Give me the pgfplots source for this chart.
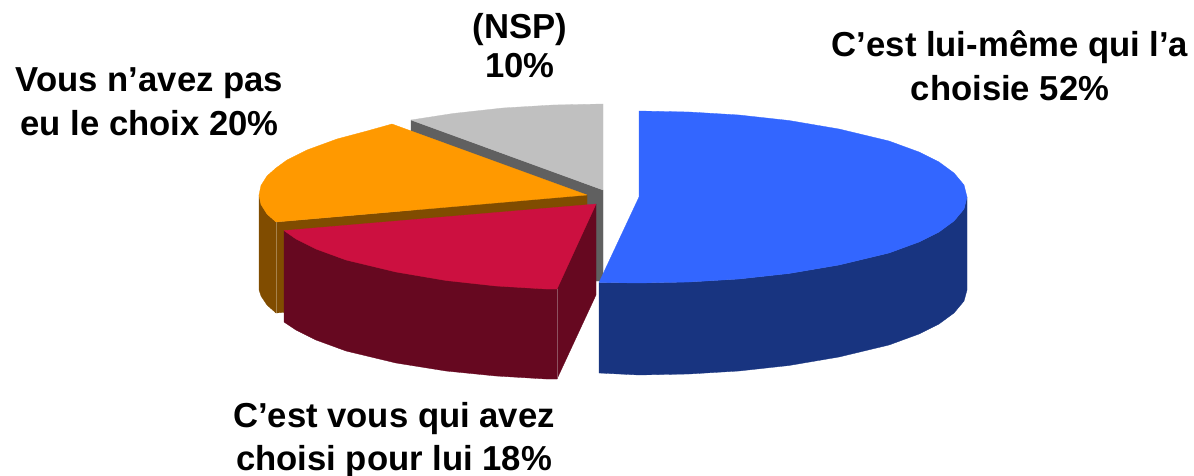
\documentclass[border=0pt]{standalone}
\usepackage{pgfplots}
\pgfplotsset{compat=1.18}
\usepackage{fontspec}
\setmainfont{Liberation Sans}
\definecolor{blueT}{HTML}{3366FF}
\definecolor{blueS}{HTML}{183480}
\definecolor{redT}{HTML}{CC1040}
\definecolor{redS}{HTML}{660820}
\definecolor{oraT}{HTML}{FF9900}
\definecolor{oraS}{HTML}{804C00}
\definecolor{graT}{HTML}{C0C0C0}
\definecolor{graS}{HTML}{606060}
\begin{document}
\begin{tikzpicture}
\path[use as bounding box] (0,0) rectangle (1194bp,476bp);
\begin{axis}[at={(0,0)},anchor=south west,scale only axis,width=1194bp,height=476bp,
  xmin=0,xmax=1194,ymin=0,ymax=476,y dir=reverse,hide axis,clip=false,
  every axis plot/.append style={no markers,line width=0.3pt,line join=round}]
% NSP
\addplot[fill=graS,draw=graS] coordinates {(411,120)(603,190)(603,281)(596,281)(411,211)(411,120)};
\addplot[fill=graT,draw=graT] coordinates {(603,190)(603,104)(553,105)(503,108)(453,113.5)(411,120)(603,190)};
% Vous n'avez pas eu le choix
\addplot[fill=oraS,draw=oraS] coordinates {(276,222)(587,195)(587,286)(276,313)(276,222)};
\addplot[fill=oraS,draw=oraS] coordinates {(276,222)(267,214)(261,204)(259,195)(259,290)(261,296)(267,305)(276,313)(276,222)};
\addplot[fill=oraT,draw=oraT] coordinates {(587,195)(276,222)(267,214)(261,204.5)(259,195)(261,185.5)(267,176)(276,168)(287,160)(307,150)(337,139)(367,131)(392,124)(587,195)};
% C'est vous
\addplot[fill=redS,draw=redS] coordinates {(596,204)(557,289)(557,379)(596,295)(596,204)};
\addplot[fill=redS,draw=redS] coordinates {(284,230.6)(296,239)(316,249)(346,260)(396,272)(446,280.5)(496,286)(546,289)(557,289)(557,379)(546,379)(496,376)(446,371)(396,363)(346,351)(316,340)(296,330)(284,322)(284,230.6)};
\addplot[fill=redT,draw=redT] coordinates {(596,204)(284,230.6)(296,239)(316,249)(346,260)(396,272)(446,280.5)(496,286)(546,289)(557,289)(596,204)};
% C'est lui-meme
\addplot[fill=blueS,draw=blueS] coordinates {(599,282.5)(639,283)(689,282)(739,279)(789,273.5)(839,265)(889,253)(919,242)(939,232)(954,221)(964,209)(967,197)(967,290)(964,301)(954,313)(939,324)(919,334)(889,345)(839,357)(789,365.5)(739,371)(689,374)(639,375)(599,373)(599,282.5)};
\addplot[fill=blueT,draw=blueT] coordinates {(639,197)(639,111)(689,112)(739,115)(789,120.5)(839,129)(889,141)(919,152)(939,162)(954,173)(964,185)(967,197)(964,209)(954,221)(939,232)(919,242)(889,253)(839,265)(789,273.5)(739,279)(689,282)(639,283)(599,282.5)(639,197)};
\addplot[draw=black!10!redS!70!white] coordinates {(557,289)(557,379)};
\addplot[draw=oraS!70!white] coordinates {(276,222)(276,313)};
\node[align=center,font=\fontsize{34.8}{44}\selectfont\bfseries,inner sep=0pt] at (axis cs:1010,66) {C’est lui-même qui l’a\\choisie 52\%};
\node[align=center,font=\fontsize{34.8}{39}\selectfont\bfseries,inner sep=0pt] at (axis cs:520,46) {(NSP)\\10\%};
\node[align=center,font=\fontsize{34.8}{44}\selectfont\bfseries,inner sep=0pt] at (axis cs:149.5,102) {Vous n’avez pas\\eu le choix 20\%};
\node[align=center,font=\fontsize{34.8}{44}\selectfont\bfseries,inner sep=0pt] at (axis cs:394,440) {C’est vous qui avez\\choisi pour lui 18\%};
\end{axis}
\end{tikzpicture}
\end{document}
